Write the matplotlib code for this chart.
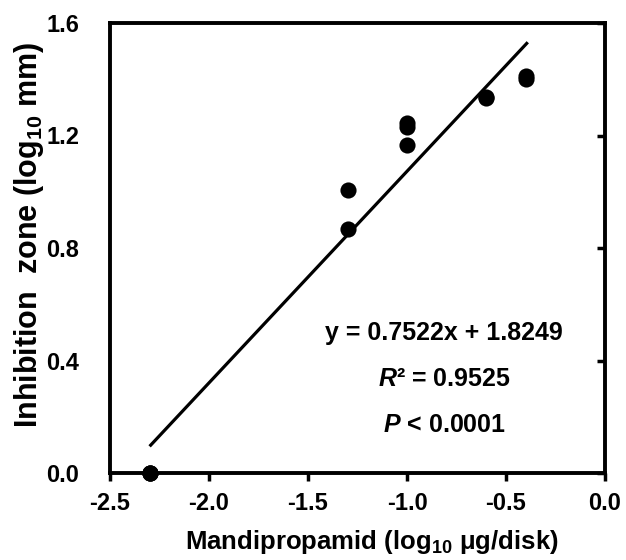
import matplotlib
matplotlib.use("Agg")
import matplotlib.pyplot as plt
import numpy as np

plt.rcParams['font.family'] = ['Liberation Sans', 'DejaVu Sans']
plt.rcParams['mathtext.fontset'] = 'custom'
plt.rcParams['mathtext.rm'] = 'Liberation Sans:bold'
plt.rcParams['mathtext.it'] = 'Liberation Sans:bold:italic'
plt.rcParams['mathtext.bf'] = 'Liberation Sans:bold'

# Data
dose_log = [-2.3, -2.3, -2.3, -1.3, -1.3, -1.0, -1.0, -1.0, -0.6, -0.6, -0.4, -0.4]
zone_log = [0.0, 0.0, 0.0, 1.006, 0.868, 1.243, 1.230, 1.166, 1.338, 1.333, 1.410, 1.400]
slope = 0.7522
intercept = 1.8249
fit_range = [-2.3, -0.39]
xticks = [-2.5, -2.0, -1.5, -1.0, -0.5, 0.0]
yticks = [0.0, 0.4, 0.8, 1.2, 1.6]

TFS = 17
fig = plt.figure(figsize=(6.26, 5.6), dpi=100)
ax = fig.add_axes([110/626, 1-473/560, 495/626, 450/560])

ax.scatter(dose_log, zone_log, s=135, color='black', zorder=3, clip_on=False, linewidths=0)
xf = np.array(fit_range)
ax.plot(xf, slope*xf + intercept, color='black', lw=2.3, zorder=2, solid_capstyle='butt')

ax.set_xlim(-2.5, 0.0)
ax.set_ylim(0.0, 1.6)
ax.set_xticks(xticks)
ax.set_xticklabels([f"{v:.1f}" for v in xticks])
ax.set_yticks(yticks)
ax.set_yticklabels([f"{v:.1f}" for v in yticks])

for s in ax.spines.values():
    s.set_linewidth(2.8)

ax.tick_params(axis='x', direction='out', length=6, width=2.5, labelsize=TFS, pad=8)
ax.tick_params(axis='y', which='both', left=False, right=True, labelleft=True,
               labelright=False, direction='in', length=6, width=2.5, labelsize=TFS, pad=22)
for lab in ax.get_xticklabels() + ax.get_yticklabels():
    lab.set_fontweight('bold')

ax.set_xlabel("Mandipropamid (log$_{10}$ μg/disk)", fontsize=18.5, fontweight='bold', va='top')
ax.xaxis.set_label_coords((371.5-110)/495, (473-528)/450)
ax.set_ylabel("Inhibition  zone (log$_{10}$ mm)", fontsize=22, fontweight='bold')
ax.yaxis.set_label_coords((46-110)/495, (473-235)/450)

ax.text(-0.813, 0.499, "y = 0.7522x + 1.8249", ha='center', va='center', fontsize=18, fontweight='bold')
ax.text(-0.813, 0.335, "$\\mathit{R}$² = 0.9525", ha='center', va='center', fontsize=18, fontweight='bold')
ax.text(-0.813, 0.171, "$\\mathit{P}$ < 0.0001", ha='center', va='center', fontsize=18, fontweight='bold')

fig.savefig("out.png", dpi=100)
